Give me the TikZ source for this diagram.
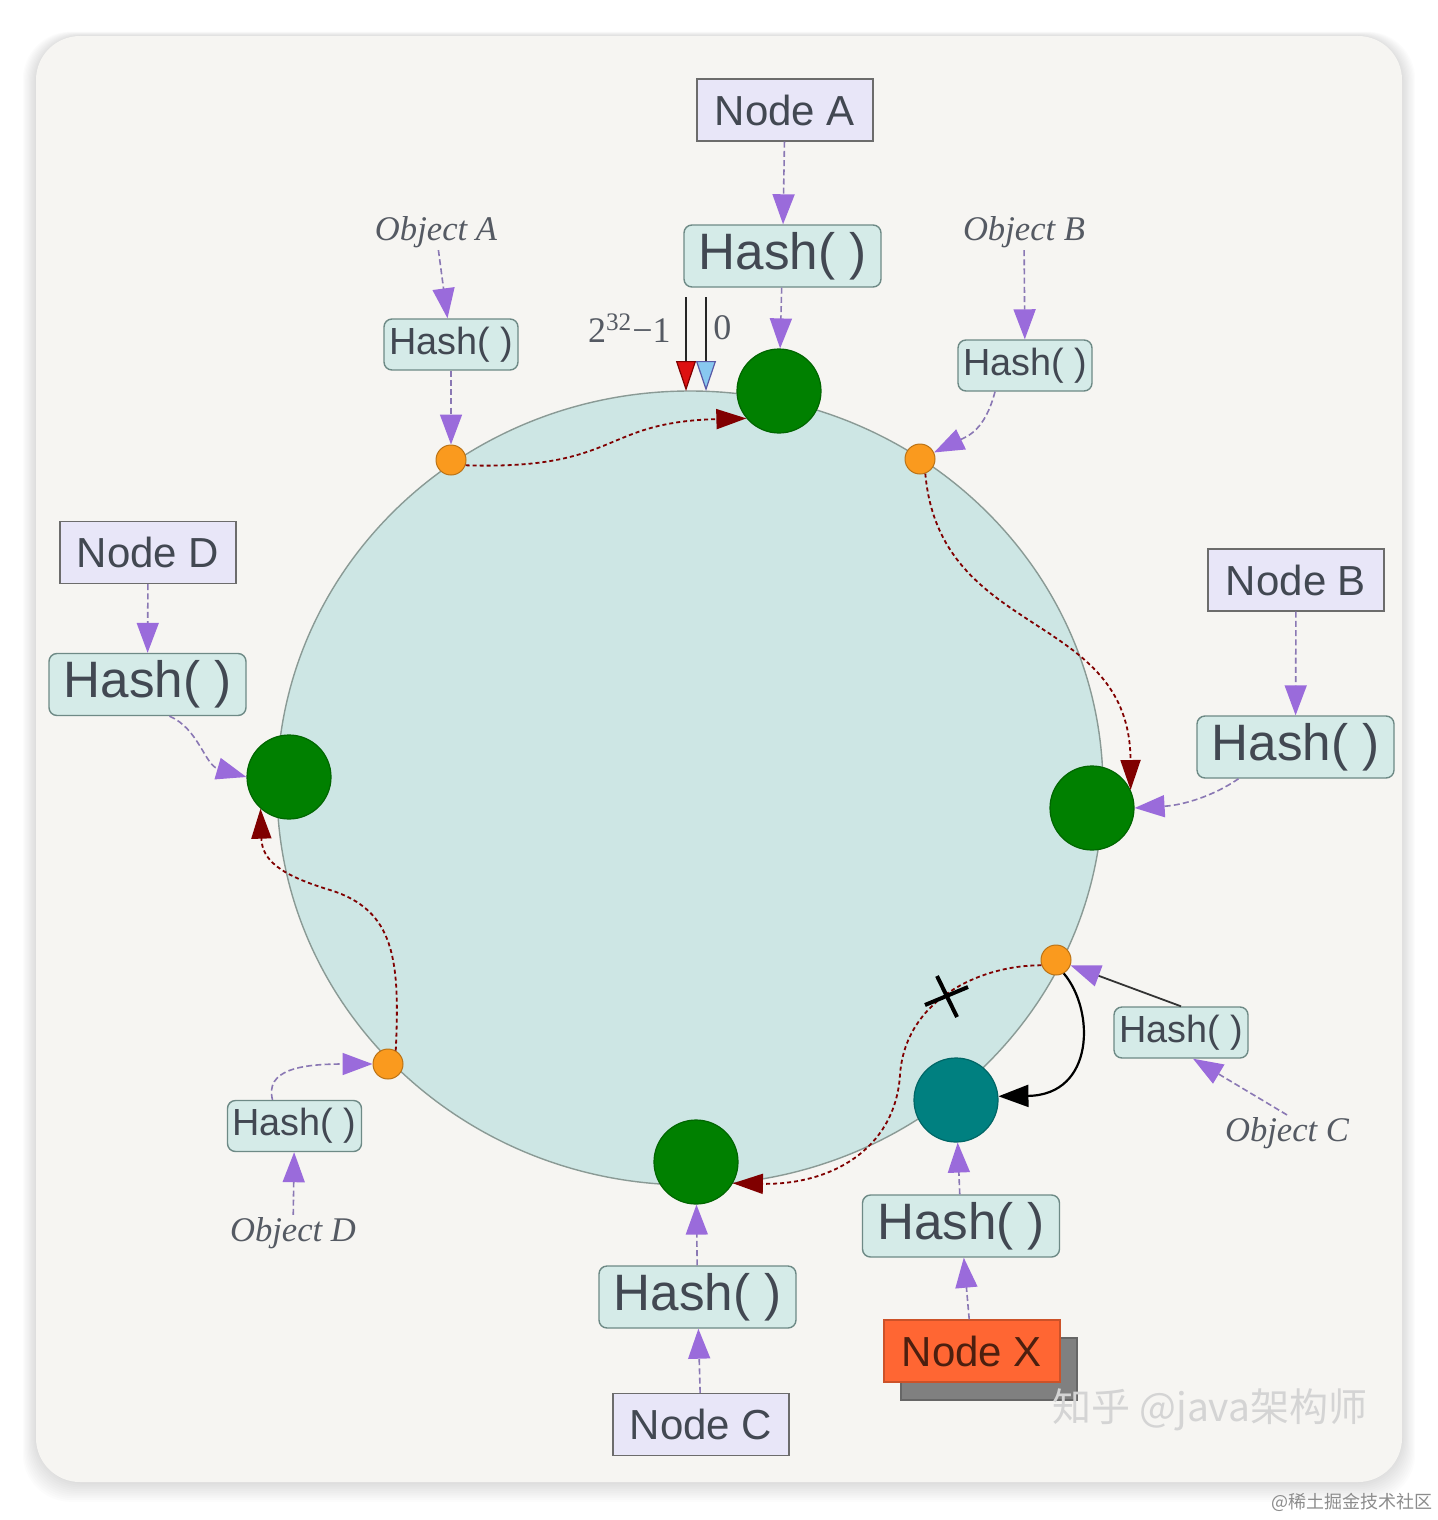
\documentclass[tikz,border=0pt]{standalone}
\usepackage{fontspec}
\setmainfont{Liberation Serif}
\setsansfont{Liberation Sans}
\newfontfamily\cjkfont{Noto Sans CJK SC}
\usetikzlibrary{arrows.meta,shadows,calc}
\definecolor{vpanel}{HTML}{F6F5F2}
\definecolor{vring}{HTML}{CDE6E4}
\definecolor{vringline}{HTML}{8A9A95}
\definecolor{vgreen}{HTML}{008000}
\definecolor{vteal}{HTML}{008080}
\definecolor{vorange}{HTML}{FA9A1E}
\definecolor{vpurple}{HTML}{9A6BDB}
\definecolor{vdash}{HTML}{8A78B4}
\definecolor{vdred}{HTML}{800000}
\definecolor{vnodefill}{HTML}{E8E6F8}
\definecolor{vhashfill}{HTML}{D5EBE8}
\definecolor{vhashline}{HTML}{6E8A86}
\definecolor{vink}{HTML}{424852}
\definecolor{vxfill}{HTML}{FF6633}
\tikzset{
  nodebox/.style={
    rectangle, draw=gray!85!black, line width=0.7pt, fill=vnodefill,
    minimum width=88pt, minimum height=31pt, inner sep=0pt,
    text=vink, font=\sffamily\fontsize{21}{25}\selectfont},
  hashbig/.style={
    rectangle, rounded corners=4pt, draw=vhashline, line width=0.7pt,
    fill=vhashfill, minimum width=98.5pt, minimum height=31pt, inner sep=0pt,
    text=vink, font=\sffamily\fontsize{25.6}{30}\selectfont},
  hashsmall/.style={
    hashbig, minimum width=67pt, minimum height=25.5pt,
    font=\sffamily\fontsize{18.9}{22}\selectfont},
  objlabel/.style={text=vink!90, inner sep=1pt,
    font=\itshape\fontsize{17.3}{20}\selectfont},
  keylabel/.style={text=vink!90, inner sep=1pt,
    font=\fontsize{18}{20}\selectfont},
  ringnode/.style={circle, fill=#1, draw=#1!80!black, line width=0.6pt,
    minimum size=42pt, inner sep=0pt},
  keydot/.style={circle, fill=vorange, draw=vorange!75!black,
    line width=0.5pt, minimum size=15pt, inner sep=0pt},
  hflow/.style={draw=vdash, line width=0.8pt, dash pattern=on 3pt off 1.6pt,
    -{Triangle[length=15pt,width=11pt,color=vpurple]}},
  hsolid/.style={draw=gray!40!black, line width=0.9pt,
    -{Triangle[length=15pt,width=11pt,color=vpurple]}},
  rflow/.style={draw=vdred, line width=0.9pt, dash pattern=on 2pt off 1.5pt,
    -{Triangle[length=15pt,width=10pt,color=vdred]}},
  xflow/.style={draw=black, line width=1.1pt,
    -{Triangle[length=15pt,width=11pt]}},
  ptr/.style={draw=gray!30!black, line width=0.6pt},
  cutmark/.style={draw=black, line width=2pt},
  wmark/.style={text=black!17, font=\cjkfont\fontsize{19.5}{22}\selectfont},
  wsmall/.style={text=black!45, font=\cjkfont\fontsize{9}{11}\selectfont},
}

\begin{document}
\begin{tikzpicture}[x=0.5pt,y=-0.5pt]
\useasboundingbox (0,0) rectangle (1438,1520);
\fill[white] (0,0) rectangle (1438,1520);

% panel with soft shadow
\foreach \s in {2,4,...,22}
  \fill[black,opacity=0.011,rounded corners=24pt]
    (36-\s*0.6,36-\s*0.2) rectangle (1402+\s*0.6,1482+\s*0.9);
\fill[vpanel,rounded corners=22pt] (36,36) rectangle (1402,1482);

% the hash ring
\draw[draw=vringline,line width=0.7pt,fill=vring]
  (690,788) ellipse [x radius=413, y radius=397];

% servers on the ring
\node[ringnode=vgreen] (na) at (779,391) {};
\node[ringnode=vgreen] (nb) at (1092,808) {};
\node[ringnode=vgreen] (nc) at (696,1162) {};
\node[ringnode=vgreen] (nd) at (289,777) {};
\node[ringnode=vteal]  (nx) at (956,1100) {};

% objects on the ring
\node[keydot] (oa) at (451,460) {};
\node[keydot] (ob) at (920,459) {};
\node[keydot] (oc) at (1056,960) {};
\node[keydot] (od) at (388,1064) {};

% server boxes
\node[nodebox] (nodeA) at (785,110) {Node A};
\node[hashbig] (hashA) at (782.5,256) {Hash( )};
\node[nodebox] (nodeB) at (1296,580) {Node B};
\node[hashbig] (hashB) at (1295.5,747) {Hash( )};
\node[nodebox] (nodeC) at (701,1424.5) {Node C};
\node[hashbig] (hashC) at (697.5,1297) {Hash( )};
\node[nodebox] (nodeD) at (148,552.5) {Node D};
\node[hashbig] (hashD) at (147.5,684.5) {Hash( )};
\node[nodebox,fill=vxfill,draw=vxfill!80!black,text=black!70!vxfill,
  drop shadow={shadow xshift=8.5pt,shadow yshift=-9pt,
    fill=black!50,draw=black!60,opacity=1}] (nodeX) at (972,1351) {Node X};
\node[hashbig] (hashX) at (961,1226) {Hash( )};

% object labels
\node[objlabel] (objA) at (436,232) {Object A};
\node[hashsmall] (hOA) at (451,344.5) {Hash( )};
\node[objlabel] (objB) at (1024,232) {Object B};
\node[hashsmall] (hOB) at (1025,365.5) {Hash( )};
\node[objlabel] (objC) at (1287,1133) {Object C};
\node[hashsmall] (hOC) at (1181,1032.5) {Hash( )};
\node[objlabel] (objD) at (293,1233) {Object D};
\node[hashsmall] (hOD) at (294.5,1126) {Hash( )};

% ends of the key space
\node[keylabel,anchor=east] (lmax) at (673,328) {2\textsuperscript{32}−1};
\node[keylabel,anchor=west] (lzero) at (711,328) {0};
\coordinate (kmax) at (686,297);
\coordinate (kmaxend) at (686,391);
\coordinate (kzero) at (706,297);
\coordinate (kzeroend) at (706,391);
\draw[ptr,-{Triangle[length=15pt,width=10pt,fill={rgb,255:red,221;green,17;blue,17},color=vdred]}]
  (kmax) -- (kmaxend);
\draw[ptr,-{Triangle[length=15pt,width=10pt,fill={rgb,255:red,136;green,200;blue,240},color=gray!70!blue]}]
  (kzero) -- (kzeroend);

% hashing servers
\foreach \a/\b in {nodeA/hashA, hashA/na, nodeB/hashB, nodeC/hashC, hashC/nc,
                   nodeD/hashD, nodeX/hashX, hashX/nx}
  \draw[hflow] (\a) -- (\b);
\draw[hflow] ($(hashB.south)+(-57,0)$) .. controls (1215,795) and (1185,805) .. (nb.east);
\draw[hflow] ($(hashD.south)+(22,0)$) .. controls (198,728) and (205,765) .. (nd.west);

% hashing objects
\foreach \a/\b in {objA/hOA, hOA/oa, objB/hOB, objD/hOD}
  \draw[hflow] (\a) -- (\b);
\draw[hflow] ($(hOB.south)+(-30,0)$) .. controls (985,430) and (968,436) .. (ob.25);
\draw[hflow] ($(hOD.north)+(-22,0)$) .. controls (265,1070) and (300,1064) .. (od.west);
\draw[hflow] (objC.north) -- ($(hOC.south)+(12,0)$);
\draw[hsolid] (hOC.north) -- (oc);

% objects walk clockwise to their server
\draw[rflow] (oa.-20) .. controls (620,470) and (600,422) .. (na.220);
\draw[rflow] (ob.-70) .. controls (940,640) and (1130,610) .. (nb.25);
\draw[rflow] (od.60) .. controls (400,960) and (395,910) .. (330,890)
  .. controls (280,875) and (262,860) .. (nd.228);
\draw[rflow] (oc.200) .. controls (980,965) and (905,1000) .. (900,1075)
  .. controls (895,1150) and (830,1185) .. (nc.-30);
\draw[xflow] (oc.-60) .. controls (1095,1010) and (1095,1095) .. (nx.5);

% broken path
\coordinate (cut) at (946,997);
\draw[cutmark] ($(cut)+(-21,8)$) -- ($(cut)+(22,-10)$);
\draw[cutmark] ($(cut)+(-9,-21)$) -- ($(cut)+(11,20)$);

% watermarks
\node[wmark] (wm) at (1210,1410) {知乎 @java架构师};
\node[wsmall] (ws) at (1352,1502) {@稀土掘金技术社区};

\end{tikzpicture}
\end{document}
